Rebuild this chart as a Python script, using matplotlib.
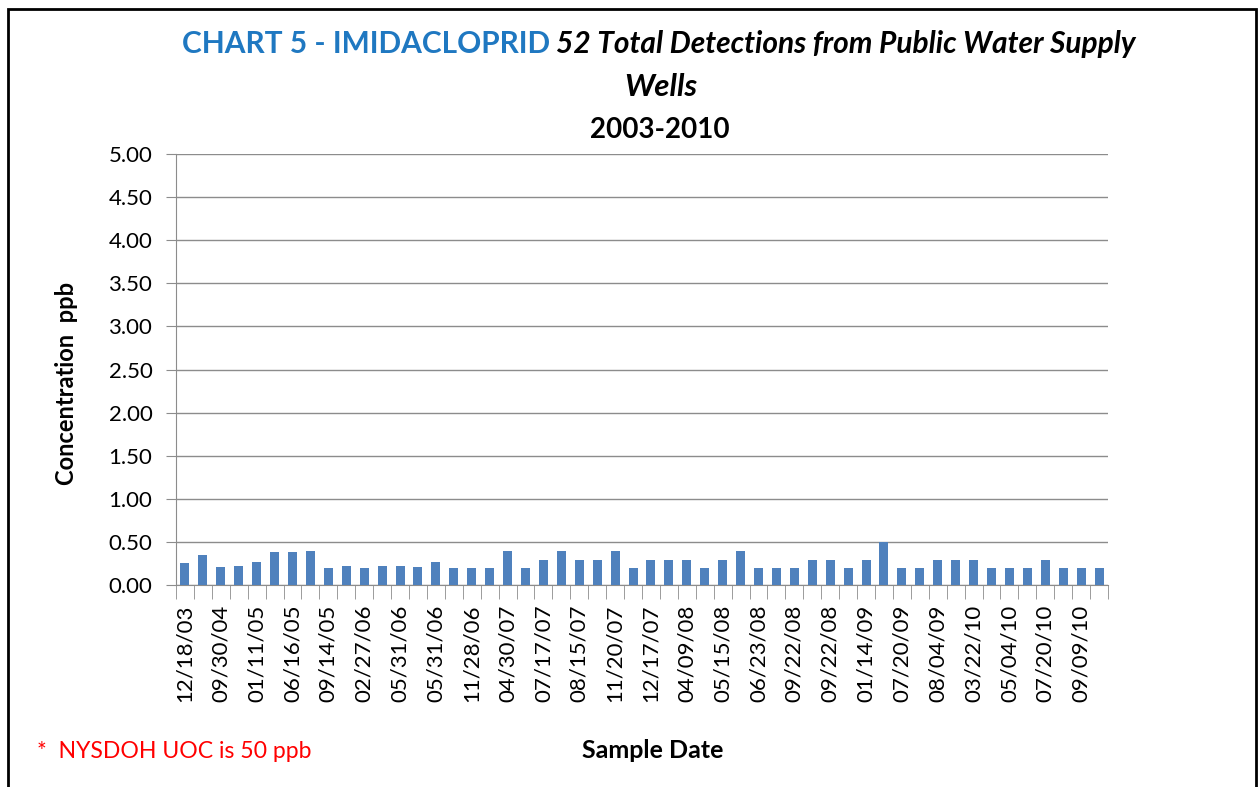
import numpy as np
import matplotlib.pyplot as plt
from matplotlib.patches import Rectangle

# concentration (ppb) for each of the 52 detections, in sample order
conc = [0.25, 0.35, 0.21, 0.22, 0.27, 0.38, 0.38, 0.40, 0.20, 0.22,
        0.20, 0.22, 0.22, 0.21, 0.27, 0.20, 0.20, 0.20, 0.40, 0.20,
        0.29, 0.40, 0.29, 0.29, 0.40, 0.20, 0.29, 0.29, 0.29, 0.20,
        0.29, 0.40, 0.20, 0.20, 0.20, 0.29, 0.29, 0.20, 0.29, 0.50,
        0.20, 0.20, 0.29, 0.29, 0.29, 0.20, 0.20, 0.20, 0.29, 0.20,
        0.20, 0.20]

# only every other sample date is labelled on the axis
date_labels = ['12/18/03', '09/30/04', '01/11/05', '06/16/05', '09/14/05',
               '02/27/06', '05/31/06', '05/31/06', '11/28/06', '04/30/07',
               '07/17/07', '08/15/07', '11/20/07', '12/17/07', '04/09/08',
               '05/15/08', '06/23/08', '09/22/08', '09/22/08', '01/14/09',
               '07/20/09', '08/04/09', '03/22/10', '05/04/10', '07/20/10',
               '09/09/10']

y_ticks = [0.0, 0.5, 1.0, 1.5, 2.0, 2.5, 3.0, 3.5, 4.0, 4.5, 5.0]

W, H = 1259, 787
plt.rcParams['font.family'] = ['Lato', 'DejaVu Sans']

fig = plt.figure(figsize=(W / 100, H / 100), dpi=100)
ax = fig.add_axes([176 / W, 1 - 585 / H, (1108 - 176) / W, (585 - 154) / H])

x = np.arange(len(conc))
ax.bar(x, conc, width=0.5, color='#4F81BD', zorder=3)

ax.set_xlim(-0.5, len(conc) - 0.5)
ax.set_ylim(0, 5)
ax.set_yticks(y_ticks)
ax.set_yticklabels(['%.2f' % v for v in y_ticks], fontsize=16)
ax.yaxis.grid(True, color='#8C8C8C', linewidth=1.0, zorder=0)

ax.set_xticks(x[::2])
ax.set_xticklabels(date_labels, rotation=90, fontsize=16)
ax.set_xticks(np.arange(len(conc) + 1) - 0.5, minor=True)
ax.tick_params(axis='x', which='major', length=0, pad=14)
ax.tick_params(axis='x', which='minor', length=10, color='#8C8C8C')
ax.tick_params(axis='y', length=7, color='#8C8C8C', pad=10)

for s in ['top', 'right']:
    ax.spines[s].set_visible(False)
ax.spines['left'].set_color('#8C8C8C')
ax.spines['bottom'].set_color('#8C8C8C')

fig.text(67 / W, 1 - 383 / H, 'Concentration  ppb', fontsize=17,
         fontweight='bold', rotation=90, ha='center', va='center')
fig.text(653 / W, 1 - 750 / H, 'Sample Date', fontsize=18, fontweight='bold',
         ha='center', va='center')
fig.text(37 / W, 1 - 752 / H, '*  NYSDOH UOC is 50 ppb', fontsize=16.6,
         color='#FF0000', ha='left', va='center')

# title: blue part + bold italic black part on the same line
renderer = fig.canvas.get_renderer()
ty = 1 - 44 / H
t1 = fig.text(0, ty, 'CHART 5 - IMIDACLOPRID', fontsize=21.5, fontweight='bold',
              color='#1F78C1', va='center')
t2 = fig.text(0, ty, '52 Total Detections from Public Water Supply', fontsize=21.5,
              fontweight='bold', style='italic', color='black', va='center')
w1 = t1.get_window_extent(renderer).width
w2 = t2.get_window_extent(renderer).width
gap = 6
x0 = 659 - (w1 + gap + w2) / 2
t1.set_x(x0 / W)
t2.set_x((x0 + w1 + gap) / W)
fig.text(661 / W, 1 - 87 / H, 'Wells', fontsize=22.5, fontweight='bold',
         style='italic', ha='center', va='center')
fig.text(660 / W, 1 - 130 / H, '2003-2010', fontsize=20, fontweight='bold',
         ha='center', va='center')

# outer frame of the chart object
fig.patches.append(Rectangle((8 / W, -0.05), (1256 - 8) / W, 1.05 - 9 / H,
                             transform=fig.transFigure, fill=False,
                             edgecolor='black', linewidth=2))

fig.savefig('out.png', dpi=100)
